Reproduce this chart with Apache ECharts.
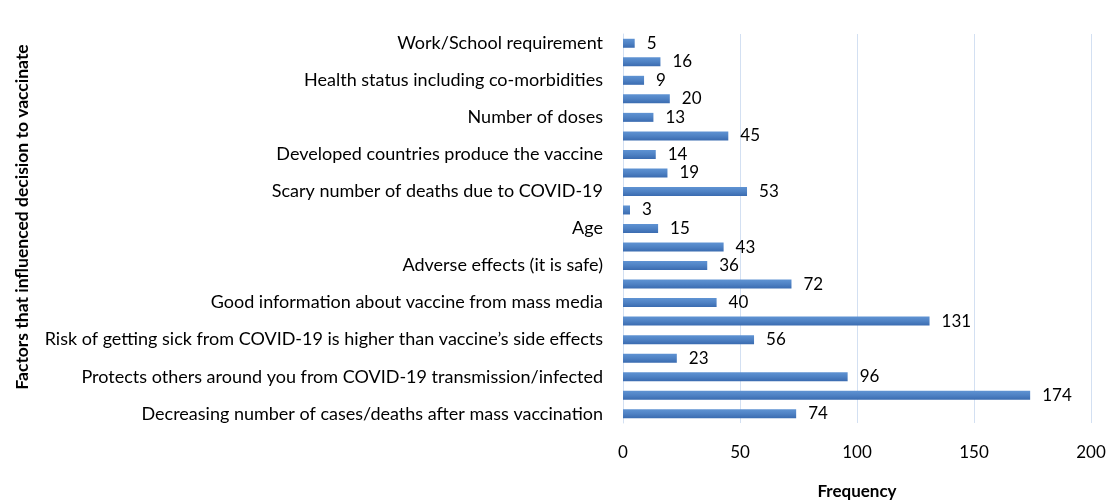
<!DOCTYPE html>
<html>
<head>
<meta charset="utf-8">
<script src="https://cdn.jsdelivr.net/npm/echarts@6/dist/echarts.min.js"></script>
<style>
    html, body { margin: 0; padding: 0; background: #fff; }
    #chart { width: 1111px; height: 501px; }
</style>
</head>
<body>
<div id="chart"></div>
<script>
// categories from bottom to top (every other label is skipped on the axis, as in the original)
const factors = [
    'Decreasing number of cases/deaths after mass vaccination',
    'Vaccine is effective in preventing severe illness',
    'Protects others around you from COVID-19 transmission/infected',
    'Recommendation from health workers',
    'Risk of getting sick from COVID-19 is higher than vaccine\u2019s side effects',
    'Protects yourself from COVID-19',
    'Good information about vaccine from mass media',
    'Vaccine is free of charge',
    'Adverse effects (it is safe)',
    'Government campaign',
    'Age',
    'Religious reasons',
    'Scary number of deaths due to COVID-19',
    'Family/friends advice',
    'Developed countries produce the vaccine',
    'Easy access to vaccination site',
    'Number of doses',
    'Type of vaccine',
    'Health status including co-morbidities',
    'Travel requirement',
    'Work/School requirement'
];
const frequency = [74, 174, 96, 23, 56, 131, 40, 72, 36, 43, 15, 3, 53, 19, 14, 45, 13, 20, 9, 16, 5];
const xTicks = { min: 0, max: 200, interval: 50 };

const chart = echarts.init(document.getElementById('chart'));
const font = 'Lato, "Open Sans", sans-serif';

chart.setOption({
    animation: false,
    textStyle: { fontFamily: font },
    grid: { left: 623, right: 20, top: 34, bottom: 78, outerBoundsMode: 'none', containLabel: false },
    xAxis: {
        type: 'value',
        min: xTicks.min,
        max: xTicks.max,
        interval: xTicks.interval,
        name: 'Frequency',
        nameLocation: 'middle',
        nameGap: 60,
        nameTextStyle: { fontFamily: font, fontWeight: 'bold', fontSize: 17, color: '#000' },
        axisLine: { show: false },
        axisTick: { show: false },
        axisLabel: { color: '#000', fontSize: 17, fontFamily: font, margin: 21 },
        splitLine: { lineStyle: { color: '#d3e0f2', width: 1 } }
    },
    yAxis: {
        type: 'category',
        data: factors,
        axisLine: { show: true, lineStyle: { color: '#d3e0f2' } },
        axisTick: { show: false },
        axisLabel: { interval: 1, color: '#000', fontSize: 18, fontFamily: font, margin: 20 }
    },
    graphic: [{
        type: 'text',
        x: 22,
        y: 217,
        rotation: Math.PI / 2,
        style: {
            text: 'Factors that influenced decision to vaccinate',
            fontFamily: font,
            fontWeight: 'bold',
            fontSize: 17.5,
            fill: '#000',
            align: 'center',
            verticalAlign: 'middle'
        }
    }],
    series: [{
        type: 'bar',
        data: frequency,
        barWidth: 9,
        itemStyle: {
            color: new echarts.graphic.LinearGradient(0, 0, 0, 1, [
                { offset: 0, color: '#5f93d3' },
                { offset: 0.5, color: '#4f82c4' },
                { offset: 1, color: '#3a6bb0' }
            ])
        },
        label: {
            show: true,
            position: 'right',
            distance: 12,
            color: '#000',
            fontSize: 17,
            fontFamily: font
        }
    }]
});
</script>
</body>
</html>
